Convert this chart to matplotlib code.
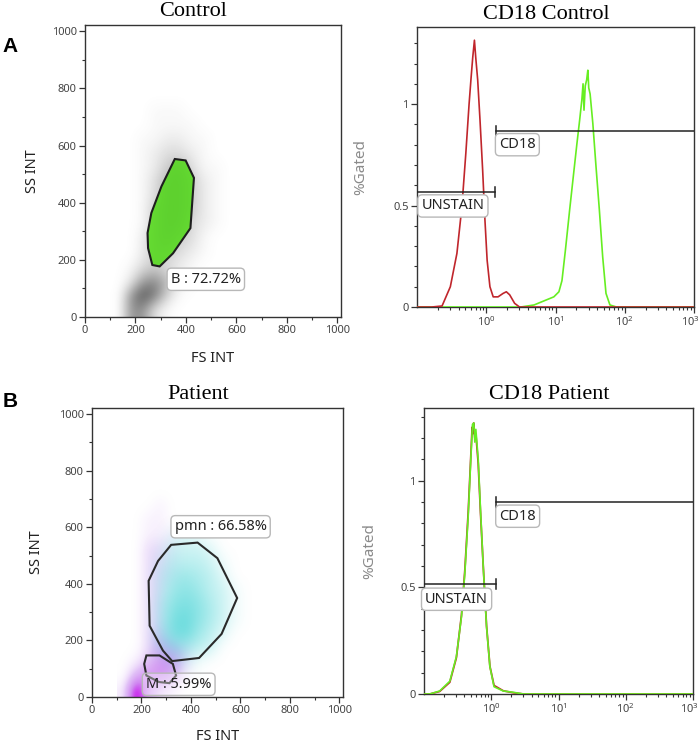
import numpy as np
import matplotlib
matplotlib.use('Agg')
import matplotlib.pyplot as plt
from matplotlib.colors import LinearSegmentedColormap, to_rgb, PowerNorm
from matplotlib.patches import Polygon
from matplotlib.ticker import MultipleLocator, FixedLocator, LogLocator, NullFormatter, LogFormatterSciNotation
from matplotlib.transforms import ScaledTranslation

# ---------------- data ----------------
# density grids (cells of 50 units; x 100..700, y 0..800), rows listed top (y=775) to bottom (y=25)
grid_extent = (100, 700, 0, 800)
control_density = [
    [0, 0, 0, 0, 0, 0, 0, 0, 0, 0, 0, 0],
    [0, 0, 0, 1, 1, 1, 0, 0, 0, 0, 0, 0],
    [0, 0, 0, 1, 1, 1, 1, 0, 0, 0, 0, 0],
    [0, 0, 1, 1, 2, 2, 1, 1, 0, 0, 0, 0],
    [0, 0, 1, 2, 3, 3, 2, 1, 0, 0, 0, 0],
    [0, 0, 1, 2, 4, 5, 3, 1, 1, 0, 0, 0],
    [0, 0, 1, 3, 5, 5, 4, 2, 1, 0, 0, 0],
    [0, 0, 1, 3, 5, 5, 4, 2, 1, 0, 0, 0],
    [0, 0, 1, 4, 5, 5, 4, 2, 1, 0, 0, 0],
    [0, 0, 1, 4, 5, 5, 3, 2, 1, 0, 0, 0],
    [0, 0, 2, 4, 5, 4, 3, 1, 0, 0, 0, 0],
    [0, 0, 2, 4, 4, 3, 2, 1, 0, 0, 0, 0],
    [0, 1, 3, 4, 3, 2, 1, 0, 0, 0, 0, 0],
    [0, 2, 6, 7, 5, 2, 1, 0, 0, 0, 0, 0],
    [0, 6, 9, 8, 4, 1, 0, 0, 0, 0, 0, 0],
    [0, 6, 7, 3, 1, 0, 0, 0, 0, 0, 0, 0],
]
# patient: events outside the pmn gate (purple) and pmn events (cyan)
patient_purple = [
    [0, 0, 0, 0, 0, 0, 0, 0, 0, 0, 0, 0],
    [0, 0, 0, 0, 0, 0, 0, 0, 0, 0, 0, 0],
    [0, 0, 0, 1, 0, 0, 0, 0, 0, 0, 0, 0],
    [0, 0, 1, 1, 0, 0, 0, 0, 0, 0, 0, 0],
    [0, 0, 1, 1, 1, 0, 0, 0, 0, 0, 0, 0],
    [0, 0, 2, 2, 1, 0, 0, 0, 0, 0, 0, 0],
    [0, 0, 2, 2, 1, 0, 0, 0, 0, 0, 0, 0],
    [0, 0, 2, 2, 1, 0, 0, 0, 0, 0, 0, 0],
    [0, 0, 2, 2, 0, 0, 0, 0, 0, 0, 0, 0],
    [0, 0, 2, 2, 0, 0, 0, 0, 0, 0, 0, 0],
    [0, 0, 2, 2, 0, 0, 0, 0, 0, 0, 0, 0],
    [0, 0, 2, 3, 1, 0, 0, 0, 0, 0, 0, 0],
    [0, 0, 2, 4, 4, 2, 0, 0, 0, 0, 0, 0],
    [0, 1, 3, 5, 5, 2, 0, 0, 0, 0, 0, 0],
    [0, 4, 5, 5, 4, 1, 0, 0, 0, 0, 0, 0],
    [1, 9, 4, 2, 1, 0, 0, 0, 0, 0, 0, 0],
]
patient_cyan = [
    [0, 0, 0, 0, 0, 0, 0, 0, 0, 0, 0, 0],
    [0, 0, 0, 0, 0, 0, 0, 0, 0, 0, 0, 0],
    [0, 0, 0, 0, 0, 0, 0, 0, 0, 0, 0, 0],
    [0, 0, 0, 0, 0, 0, 0, 0, 0, 0, 0, 0],
    [0, 0, 0, 0, 1, 2, 1, 0, 0, 0, 0, 0],
    [0, 0, 0, 1, 3, 3, 3, 2, 0, 0, 0, 0],
    [0, 0, 0, 2, 4, 4, 4, 3, 1, 0, 0, 0],
    [0, 0, 0, 3, 5, 6, 5, 4, 2, 0, 0, 0],
    [0, 0, 0, 3, 6, 7, 6, 4, 3, 1, 0, 0],
    [0, 0, 0, 4, 7, 8, 7, 5, 3, 1, 0, 0],
    [0, 0, 0, 4, 8, 9, 7, 5, 3, 1, 0, 0],
    [0, 0, 0, 4, 8, 9, 6, 4, 2, 0, 0, 0],
    [0, 0, 0, 3, 5, 5, 4, 3, 0, 0, 0, 0],
    [0, 0, 0, 0, 2, 2, 1, 0, 0, 0, 0, 0],
    [0, 0, 0, 0, 0, 0, 0, 0, 0, 0, 0, 0],
    [0, 0, 0, 0, 0, 0, 0, 0, 0, 0, 0, 0],
]

# gates (FS, SS)
gate_B = [(356, 553), (399, 548), (432, 487), (418, 311), (349, 223), (296, 177),
          (267, 182), (250, 241), (248, 294), (263, 364), (303, 457)]
gate_pmn = [(320, 538), (427, 546), (507, 491), (587, 350), (524, 223), (433, 138),
            (324, 127), (287, 164), (233, 252), (229, 411), (267, 481)]
gate_M = [(220, 147), (273, 147), (327, 117), (340, 76), (313, 49), (271, 53),
          (220, 76), (211, 117)]
label_B = "B : 72.72%"
label_pmn = "pmn : 66.58%"
label_M = "M : 5.99%"

# histograms
ctrl_red_x = [0.1, 0.164, 0.23, 0.303, 0.377, 0.445, 0.507, 0.565, 0.604, 0.638, 0.675, 0.705,
              0.752, 0.813, 0.887, 0.957, 1.03, 1.13, 1.26, 1.48, 1.75, 1.95, 2.18, 2.57, 3.02, 1000]
ctrl_red_y = [0, 0, 0.005, 0.10, 0.264, 0.494, 0.757, 1.00, 1.13, 1.23, 1.315, 1.23,
              1.12, 0.92, 0.675, 0.43, 0.23, 0.10, 0.05, 0.05, 0.067, 0.075, 0.06, 0.018, 0, 0]
ctrl_green_x = [0.1, 3.16, 4.9, 6.8, 9.46, 11.2, 12.4, 13.9, 16.0, 18.3, 20.4, 22.3, 24.0, 25.0,
                25.8, 26.9, 28.2, 29.3, 30.2, 31.6, 34.6, 38.5, 43.0, 48.0, 53.6, 61.1, 75.9, 1000]
ctrl_green_y = [0, 0, 0.01, 0.03, 0.05, 0.075, 0.13, 0.28, 0.478, 0.66, 0.806, 0.92, 1.02, 1.10,
                0.97, 1.09, 1.12, 1.167, 1.08, 1.05, 0.905, 0.69, 0.478, 0.248, 0.067, 0.01, 0, 0]
pat_red_x = [0.1, 0.122, 0.171, 0.242, 0.303, 0.361, 0.405, 0.454, 0.491, 0.520, 0.535, 0.548,
             0.570, 0.590, 0.640, 0.692, 0.760, 0.851, 0.955, 1.10, 1.51, 2.13, 3.01, 1000]
pat_red_y = [0, 0, 0.012, 0.055, 0.17, 0.37, 0.58, 0.85, 1.08, 1.25, 1.22, 1.27,
             1.20, 1.22, 1.08, 0.85, 0.60, 0.32, 0.13, 0.04, 0.015, 0.006, 0, 0]
pat_green_x = [0.1, 0.122, 0.171, 0.242, 0.303, 0.361, 0.405, 0.454, 0.491, 0.526, 0.551, 0.570,
               0.590, 0.640, 0.692, 0.760, 0.851, 0.955, 1.10, 1.51, 2.13, 3.01, 1000]
pat_green_y = [0, 0, 0.014, 0.06, 0.175, 0.363, 0.567, 0.832, 1.067, 1.263, 1.27, 1.18,
               1.24, 1.10, 0.864, 0.598, 0.316, 0.128, 0.034, 0.014, 0.008, 0, 0]

# histogram markers: (start, end, y)
ctrl_cd18 = (1.39, 1000, 0.867)
ctrl_unstain = (0.1, 1.35, 0.565)
pat_cd18 = (1.17, 1000, 0.898)
pat_unstain = (0.1, 1.17, 0.515)

# ---------------- style ----------------
SPINE = '#333333'
TICKC = '#444444'
SANS = ['Noto Sans', 'DejaVu Sans']
SERIF = ['Liberation Serif', 'DejaVu Serif']
LABEL_BOX = dict(boxstyle='round,pad=0.25,rounding_size=0.3', fc='white', ec='#b8b8b8', lw=1.0)
LABEL_FS = 10.5

W, H = 700, 746
fig = plt.figure(figsize=(7.0, 7.46), dpi=100)


def px_axes(l, r, t, b):
    return fig.add_axes([l / W, (H - b) / H, (r - l) / W, (b - t) / H])


def alpha_cmap(color):
    rgb = to_rgb(color)
    return LinearSegmentedColormap.from_list('a', [(*rgb, 0.0), (*rgb, 1.0)])


PURPLE_CMAP = LinearSegmentedColormap.from_list(
    'purple', [(0.78, 0.55, 0.95, 0.0), (0.74, 0.45, 0.93, 0.45), (0.72, 0.28, 0.92, 0.65),
               (0.80, 0.0, 0.93, 1.0)])


def density_image(ax, grid, cmap, vmax, gamma, z, clip=None):
    if isinstance(cmap, str):
        cmap = alpha_cmap(cmap)
    im = ax.imshow(np.array(grid, dtype=float), extent=grid_extent, origin='upper',
                   cmap=cmap, norm=PowerNorm(gamma, vmin=0, vmax=vmax, clip=True),
                   interpolation='bicubic', aspect='auto', zorder=z)
    if clip is not None:
        im.set_clip_path(Polygon(clip, closed=True, transform=ax.transData))
    return im


def style_axes(ax):
    for s in ax.spines.values():
        s.set_color(SPINE)
        s.set_linewidth(1.0)
    ax.tick_params(which='both', direction='out', colors=SPINE, labelcolor=TICKC,
                   labelsize=8, top=False, right=False)
    ax.tick_params(which='major', length=4, width=0.9, pad=2)
    ax.tick_params(which='minor', length=2.5, width=0.8)
    for lab in ax.get_xticklabels() + ax.get_yticklabels():
        lab.set_family(SANS)


def scatter_panel(ax, ylab_x, xlab_y):
    ax.set_xlim(0, 1015)
    ax.set_ylim(0, 1022)
    ax.xaxis.set_major_locator(MultipleLocator(200))
    ax.xaxis.set_minor_locator(MultipleLocator(100))
    ax.yaxis.set_major_locator(MultipleLocator(200))
    ax.yaxis.set_minor_locator(MultipleLocator(100))
    ax.set_xlabel('FS INT', family=SANS, fontsize=10.5, color='#222222')
    ax.set_ylabel('SS INT', family=SANS, fontsize=10.5, color='#222222')
    ax.xaxis.set_label_coords(0.5, xlab_y)
    ax.yaxis.set_label_coords(ylab_x, 0.5)
    style_axes(ax)


def hist_panel(ax, ylab_x, ytop):
    ax.set_xscale('log')
    ax.set_xlim(0.1, 1000)
    ax.set_ylim(0, ytop)
    ax.xaxis.set_major_locator(FixedLocator([1, 10, 100, 1000]))
    ax.xaxis.set_major_formatter(LogFormatterSciNotation())
    ax.xaxis.set_minor_locator(LogLocator(base=10, subs=np.arange(2, 10), numticks=20))
    ax.xaxis.set_minor_formatter(NullFormatter())
    ax.yaxis.set_major_locator(FixedLocator([0, 0.5, 1]))
    ax.yaxis.set_major_formatter(plt.FuncFormatter(lambda v, p: '%g' % v))
    ax.yaxis.set_minor_locator(MultipleLocator(0.1))
    ax.set_ylabel('%Gated', family=SANS, fontsize=11, color='#8a8a8a')
    ax.yaxis.set_label_coords(ylab_x, 0.5)
    style_axes(ax)
    fig.canvas.draw()
    last = ax.get_xticklabels()[-1]
    last.set_transform(last.get_transform() + ScaledTranslation(-4 / 100, 0, fig.dpi_scale_trans))


def marker(ax, seg, tick_side, text, tx, ty):
    x0, x1, y = seg
    ax.plot([x0, x1], [y, y], color='#222222', lw=1.1, zorder=6)
    xt = x0 if tick_side == 'left' else x1
    ax.plot([xt, xt], [y - 0.025, y + 0.025], color='#222222', lw=1.1, zorder=6)
    ax.text(tx, ty, text, family=SANS, fontsize=LABEL_FS, color='#222222', ha='left', va='center',
            bbox=LABEL_BOX, zorder=7)


# ---------------- A: control scatter ----------------
ax1 = px_axes(85, 341, 25, 317)
density_image(ax1, control_density, '#6e6e6e', 8, 1.5, 1)
ax1.add_patch(Polygon(gate_B, closed=True, facecolor='#6ae234', edgecolor='none', zorder=2))
density_image(ax1, control_density, '#2f8f1a', 12, 1.8, 3, clip=gate_B)
ax1.add_patch(Polygon(gate_B, closed=True, fill=False, edgecolor='#1e1e1e', lw=1.5, zorder=5))
ax1.text(340, 132, label_B, family=SANS, fontsize=LABEL_FS, color='#222222', ha='left', va='center',
         bbox=LABEL_BOX, zorder=7)
scatter_panel(ax1, -0.176, -0.115)

# ---------------- A: CD18 control histogram ----------------
ax2 = px_axes(417, 694, 27, 307)
ax2.plot(ctrl_green_x, ctrl_green_y, color='#66ee22', lw=1.2, zorder=3)
ax2.plot(ctrl_red_x, ctrl_red_y, color='#c0262c', lw=1.2, zorder=4)
marker(ax2, ctrl_cd18, 'left', 'CD18', 1.53, 0.80)
marker(ax2, ctrl_unstain, 'right', 'UNSTAIN', 0.116, 0.498)
hist_panel(ax2, -0.177, 1.38)

# ---------------- B: patient scatter ----------------
ax3 = px_axes(92, 343, 408, 697)
density_image(ax3, patient_purple, PURPLE_CMAP, 7.5, 1.2, 1)
density_image(ax3, patient_cyan, '#5ad8da', 10, 1.0, 2)
ax3.add_patch(Polygon(gate_pmn, closed=True, fill=False, edgecolor='#2a2a2a', lw=1.5, zorder=5))
ax3.add_patch(Polygon(gate_M, closed=True, fill=False, edgecolor='#2a2a2a', lw=1.5, zorder=5))
ax3.text(334, 602, label_pmn, family=SANS, fontsize=LABEL_FS, color='#222222', ha='left', va='center',
         bbox=LABEL_BOX, zorder=7)
ax3.text(218, 45, label_M, family=SANS, fontsize=LABEL_FS, color='#222222', ha='left', va='center',
         bbox=dict(LABEL_BOX, fc=(1, 1, 1, 0.35)), zorder=7)
scatter_panel(ax3, -0.19, -0.112)

# ---------------- B: CD18 patient histogram ----------------
ax4 = px_axes(424, 693, 408, 694)
ax4.plot(pat_red_x, pat_red_y, color='#c0262c', lw=1.3, zorder=3)
ax4.plot(pat_green_x, pat_green_y, color='#66ee22', lw=1.2, zorder=4)
marker(ax4, pat_cd18, 'left', 'CD18', 1.32, 0.833)
marker(ax4, pat_unstain, 'right', 'UNSTAIN', 0.104, 0.444)
hist_panel(ax4, -0.175, 1.34)

# ---------------- titles and panel letters ----------------
def ftext(x, y, s, **kw):
    fig.text(x / W, 1 - y / H, s, **kw)

ftext(193, 16, 'Control', family=SERIF, fontsize=16, ha='center', va='baseline')
ftext(546, 19, 'CD18 Control', family=SERIF, fontsize=16, ha='center', va='baseline')
ftext(198, 399, 'Patient', family=SERIF, fontsize=16, ha='center', va='baseline')
ftext(549, 399, 'CD18 Patient', family=SERIF, fontsize=16, ha='center', va='baseline')
ftext(2, 52, 'A', family=['Liberation Sans', 'DejaVu Sans'], fontsize=15, weight='bold',
      ha='left', va='baseline')
ftext(3, 407, 'B', family=['Liberation Sans', 'DejaVu Sans'], fontsize=15, weight='bold',
      ha='left', va='baseline')

fig.savefig('out.png', dpi=100)
